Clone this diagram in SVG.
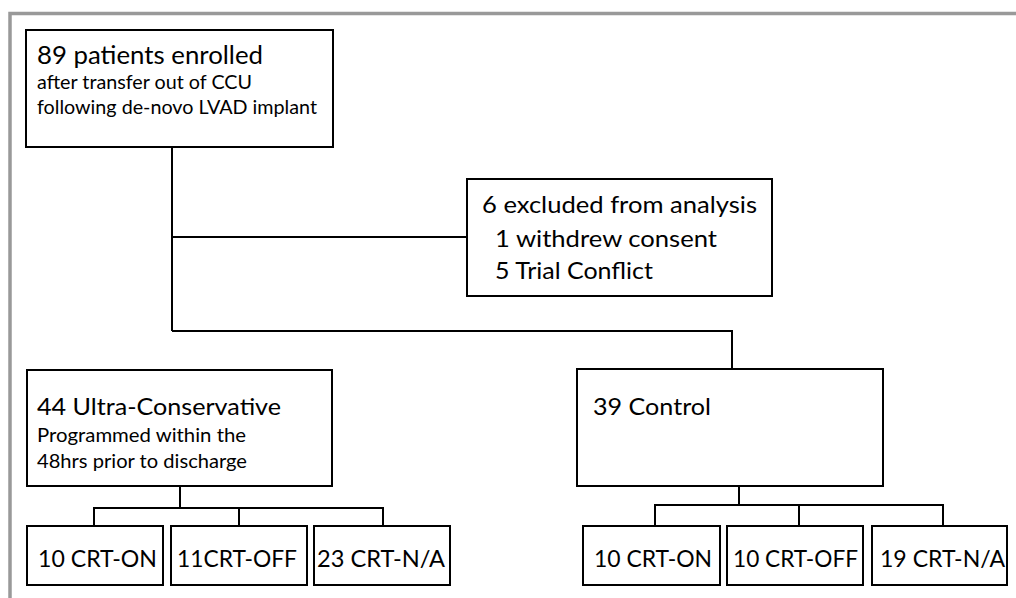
<svg xmlns="http://www.w3.org/2000/svg" width="1016" height="598" viewBox="0 0 1016 598">
<style>
.box{fill:#fff;stroke:#000;stroke-width:2}
.ln{fill:none;stroke:#000;stroke-width:2}
text{font-family:Lato,"Liberation Sans",sans-serif;fill:#000}
.l{font-size:25px}
.m{font-size:23px}
.s{font-size:20px}
</style>
<rect width="1016" height="598" fill="#fff"/>
<g id="frame"><path d="M10,598 V13.5 H1016" fill="none" stroke="#999" stroke-width="3.5"/></g>
<g id="connectors">
<path class="ln" d="M172,147 V331"/>
<path class="ln" d="M172,237 H467"/>
<path class="ln" d="M172,331 H732 V369"/>
<path class="ln" d="M180,486 V508"/>
<path class="ln" d="M94,526 V508 H383 V526"/>
<path class="ln" d="M239,508 V526"/>
<path class="ln" d="M739,486 V505"/>
<path class="ln" d="M655,526 V505 H943 V526"/>
<path class="ln" d="M799,505 V526"/>
</g>
<g id="enrolled">
<rect class="box" x="26" y="30" width="307" height="117"/>
<text class="l" x="37" y="64" textLength="226" lengthAdjust="spacingAndGlyphs">89 patients enrolled</text>
<text class="s" x="37" y="89" textLength="215" lengthAdjust="spacingAndGlyphs">after transfer out of CCU</text>
<text class="s" x="37" y="114" textLength="280" lengthAdjust="spacingAndGlyphs">following de-novo LVAD implant</text>
</g>
<g id="excluded">
<rect class="box" x="467" y="179" width="305" height="117"/>
<text class="m" x="482" y="213" textLength="275" lengthAdjust="spacingAndGlyphs">6 excluded from analysis</text>
<text class="m" x="495" y="247" textLength="222" lengthAdjust="spacingAndGlyphs">1 withdrew consent</text>
<text class="m" x="495" y="279" textLength="158" lengthAdjust="spacingAndGlyphs">5 Trial Conflict</text>
</g>
<g id="ultra">
<rect class="box" x="27" y="370" width="305" height="116"/>
<text class="m" x="37" y="415" textLength="244" lengthAdjust="spacingAndGlyphs">44 Ultra-Conservative</text>
<text class="s" x="37" y="442" textLength="209" lengthAdjust="spacingAndGlyphs">Programmed within the</text>
<text class="s" x="37" y="468" textLength="210" lengthAdjust="spacingAndGlyphs">48hrs prior to discharge</text>
</g>
<g id="control">
<rect class="box" x="577" y="369" width="306" height="117"/>
<text class="m" x="593" y="415" textLength="118" lengthAdjust="spacingAndGlyphs">39 Control</text>
</g>
<g id="u-on">
<rect class="box" x="27" y="526" width="136" height="59"/>
<text class="m" x="38" y="567" textLength="119" lengthAdjust="spacingAndGlyphs">10 CRT-ON</text>
</g>
<g id="u-off">
<rect class="box" x="171" y="526" width="136" height="59"/>
<text class="m" x="177" y="567" textLength="120" lengthAdjust="spacingAndGlyphs">11CRT-OFF</text>
</g>
<g id="u-na">
<rect class="box" x="314" y="526" width="136" height="59"/>
<text class="m" x="317" y="567" textLength="128" lengthAdjust="spacingAndGlyphs">23 CRT-N/A</text>
</g>
<g id="c-on">
<rect class="box" x="583" y="526" width="137" height="59"/>
<text class="m" x="594" y="567" textLength="118" lengthAdjust="spacingAndGlyphs">10 CRT-ON</text>
</g>
<g id="c-off">
<rect class="box" x="727" y="526" width="136" height="59"/>
<text class="m" x="733" y="567" textLength="125" lengthAdjust="spacingAndGlyphs">10 CRT-OFF</text>
</g>
<g id="c-na">
<rect class="box" x="872" y="526" width="135" height="59"/>
<text class="m" x="880" y="567" textLength="125" lengthAdjust="spacingAndGlyphs">19 CRT-N/A</text>
</g>
</svg>
